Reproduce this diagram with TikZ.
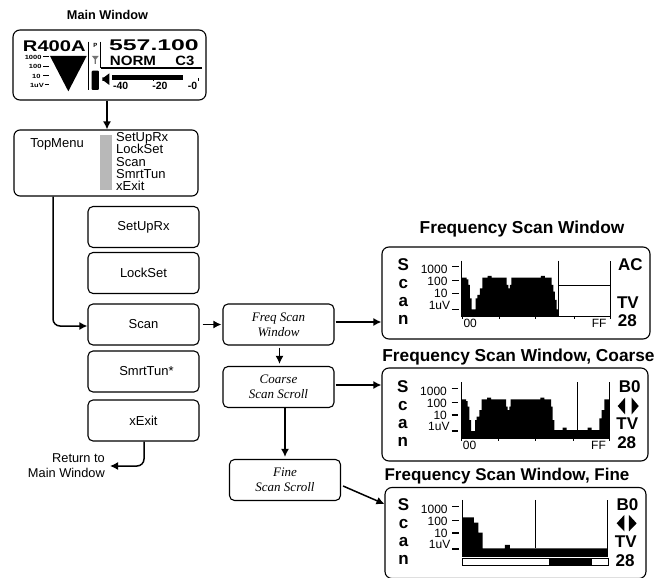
\documentclass[tikz,border=0pt]{standalone}
\usepackage{fontspec}
\usepackage{graphicx}
\setmainfont{Liberation Sans}
\newfontfamily\serifit{Liberation Serif}
\usetikzlibrary{arrows.meta}
\definecolor{barGray}{gray}{0.72}
\tikzset{
  x=1pt,y=-1pt,
  rbox/.style={draw=black,line width=1.1pt,rounded corners=5pt,fill=white,inner sep=0pt,align=center},
  menu/.style={rbox,minimum width=111pt,minimum height=41pt,font=\fontsize{13}{15}\selectfont},
  act/.style={rbox,minimum width=111pt,minimum height=41pt,font=\fontsize{13}{15}\selectfont\serifit\itshape},
  win/.style={rbox,line width=1.1pt,rounded corners=7pt},
  flow/.style={line width=1.5pt,-{Latex[length=8pt,width=8pt]}},
  title/.style={inner sep=0pt,font=\fontsize{17.3}{19}\selectfont\bfseries},
  big/.style={inner sep=0pt,font=\fontsize{17}{19}\selectfont\bfseries},
  lab/.style={inner sep=0pt,anchor=east,font=\fontsize{12}{13}\selectfont},
  lcd/.style={inner sep=0pt,font=\fontsize{15.5}{17}\selectfont\bfseries},
  small/.style={inner sep=0pt,font=\fontsize{6}{7}\selectfont\bfseries},
  mid/.style={inner sep=0pt,font=\fontsize{10.5}{12}\selectfont\bfseries},
  axisl/.style={line width=.8pt},
  tick/.style={line width=1.1pt},
}
% common contents of a scan window, in coordinates of the reference zoom (1/3 px)
\newcommand{\wincommon}[2]{%
  \node[big] (#1s) at (85,165) {S};
  \node[big] (#1c) at (85,222) {c};
  \node[big] (#1a) at (85,277) {a};
  \node[big] (#1n) at (85,330) {n};
  \node[lab] (#1l1) at (218,178) {1000};
  \node[lab] (#1l2) at (218,214) {100};
  \node[lab] (#1l3) at (218,250) {10};
  \node[lab] (#1l4) at (226,285) {1uV};
  \foreach \yy in {170,212,250,298} \draw[tick] (232,\yy) -- (252,\yy);
  \node[big,anchor=east] (#1t) at (#2,277) {TV};
  \node[big,anchor=east] (#1e) at (#2-6,333) {28};
}
\newcommand{\ticks}{%
  \foreach \xx in {262,373,482,598,705} \draw[axisl] (\xx,320) -- (\xx,328);
  \node[inner sep=0pt,font=\fontsize{12}{13}\selectfont,anchor=west] at (265,340) {00};
  \node[inner sep=0pt,font=\fontsize{12}{13}\selectfont,anchor=east] at (695,340) {FF};
}
\newcommand{\humps}{(260,320) -- (260,203) -- (275,203) -- (275,208) -- (280,208) -- (280,225) -- (285,225) -- (285,265) -- (290,265) -- (290,298) -- (302,298) -- (302,265) -- (307,265) -- (307,255) -- (315,255) -- (315,235) -- (322,235) -- (322,203) -- (338,203) -- (338,198) -- (350,198) -- (350,203) -- (395,203) -- (395,225) -- (400,225) -- (400,235) -- (405,235) -- (405,225) -- (409,225) -- (409,203) -- (498,203) -- (498,198) -- (510,198) -- (510,203) -- (530,203) -- (530,225)}
\begin{document}
\begin{tikzpicture}
\useasboundingbox (0,0) rectangle (665,578);
% Main window
\node[inner sep=0pt,font=\fontsize{12.7}{14}\selectfont\bfseries] (mt) at (107.5,15) {Main Window};
\node[win,minimum width=193pt,minimum height=70pt] (main) at (109.5,65) {};
\begin{scope}[x=.3333pt,y=-.3333pt]
  \node[lcd] (r4) at (163,139) {\scalebox{1.3}[1]{R400A}};
  \node[lcd] (fq) at (462,137) {\scalebox{1.6}[1]{557.100}};
  \node[lcd,font=\fontsize{13.5}{15}\selectfont\bfseries] (nm) at (399,183) {\scalebox{1.12}[1]{NORM}};
  \node[lcd,font=\fontsize{13.5}{15}\selectfont\bfseries] (c3) at (555,183) {\scalebox{1.1}[1]{C3}};
  \node[small,anchor=east] (m1) at (125,172) {\scalebox{1.25}[1]{1000}};
  \node[small,anchor=east] (m2) at (125,200) {\scalebox{1.25}[1]{100}};
  \node[small,anchor=east] (m3) at (122,228) {\scalebox{1.25}[1]{10}};
  \node[small,anchor=east] (m4) at (132,256) {\scalebox{1.25}[1]{1uV}};
  \foreach \yy/\xa in {170/130,198/130,226/130,254/134} \draw[line width=.7pt] (\xa,\yy) -- (146,\yy);
  \fill (150,168) -- (260,168) -- (205,274) -- cycle;
  \draw[line width=1pt] (265,125) -- (265,270);
  \draw[line width=1pt] (303,125) -- (303,205);
  \draw[line width=1.2pt] (303,204) -- (605,204);
  \node[small] (pp) at (286,135) {P};
  \fill[black!55] (276,168) -- (296,168) -- (288,178) -- (288,192) -- (284,192) -- (284,178) -- cycle;
  \fill[rounded corners=1pt] (275,212) rectangle (297,270);
  \fill (307,232) -- (312,232) -- (328,220) -- (328,255) -- (312,243) -- (307,243) -- cycle;
  \fill (337,226) rectangle (550,240);
  \node[mid] (d1) at (362,257) {-40};
  \node[mid] (d2) at (480,257) {-20};
  \node[mid] (d3) at (578,257) {-0};
  \foreach \xx in {460,596} \draw[line width=.6pt] (\xx,234) -- (\xx,244);
\end{scope}
% Top menu
\node[win,rounded corners=6pt,minimum width=184pt,minimum height=66pt] (top) at (106,163) {};
\node[inner sep=0pt,font=\fontsize{13}{15}\selectfont] (tm) at (57,144) {TopMenu};
\fill[barGray] (100,135) rectangle (112,190);
\node[inner sep=0pt,anchor=north west,align=left,font=\fontsize{13}{12.2}\selectfont] (tl) at (116,132.5) {SetUpRx\\LockSet\\Scan\\SmrtTun\\xExit};
% Menu boxes
\node[menu] (setup) at (143.5,227) {SetUpRx};
\node[menu] (lock) at (143.5,273) {LockSet};
\node[menu] (scan) at (143.5,324.5) {Scan};
\node[menu] (smrt) at (143.5,371.5) {\hspace*{6pt}SmrtTun*};
\node[menu] (xexit) at (143.5,420.5) {xExit};
\node[inner sep=0pt,align=right,anchor=east,font=\fontsize{12.8}{15}\selectfont] (ret) at (105,465.5) {Return to\\Main Window};
% Action boxes
\node[act] (freq) at (278.5,324.5) {Freq Scan\\Window};
\node[act] (coarse) at (278.5,387) {Coarse\\Scan Scroll};
\node[act] (fine) at (285,480) {Fine\\Scan Scroll};
% Titles
\node[title] (t1) at (522,229) {Frequency Scan Window};
\node[title] (t2) at (518.5,357) {Frequency Scan Window, Coarse};
\node[title,font=\fontsize{17}{19}\selectfont\bfseries] (t3) at (507,476) {Frequency Scan Window, Fine};
% Windows
\node[win,minimum width=268pt,minimum height=92pt] (w1) at (516,293) {};
\node[win,minimum width=266pt,minimum height=93pt] (w2) at (515,414.5) {};
\node[win,minimum width=261pt,minimum height=91pt] (w3) at (515.5,533) {};
% Window 1 contents
\begin{scope}[shift={(375,210)},x=.3333pt,y=-.3333pt]
  \fill \humps -- (535,225) -- (535,245) -- (540,245) -- (540,270) -- (545,270) -- (545,298) -- (551,298) -- (551,320) -- cycle;
  \draw[axisl] (260,152) -- (260,320) -- (705,320) -- (705,152);
  \draw[axisl] (551,152) -- (551,320);
  \draw[axisl] (551,225) -- (705,225);
  \ticks
  \wincommon{a}{792}
  \node[big,anchor=east] (aac) at (804,165) {AC};
\end{scope}
% Window 2 contents
\begin{scope}[shift={(374.4,331.7)},x=.3333pt,y=-.3333pt]
  \fill \humps -- (535,225) -- (535,265) -- (540,265) -- (540,295) -- (565,295) -- (565,288) -- (577,288) -- (577,295) -- (640,295) -- (640,288) -- (652,288) -- (652,295) -- (675,295) -- (675,260) -- (682,260) -- (682,235) -- (690,235) -- (690,203) -- (705,203) -- (705,320) -- cycle;
  \draw[axisl] (260,152) -- (260,320) -- (705,320) -- (705,152);
  \draw[axisl] (610,152) -- (610,320);
  \ticks
  \wincommon{b}{792}
  \node[big,anchor=east] (bb0) at (799,165) {B0};
  \fill (752,198) -- (730,223) -- (752,248) -- cycle;
  \fill (772,198) -- (793,223) -- (772,248) -- cycle;
\end{scope}
% Window 3 contents
\begin{scope}[shift={(375,460)},x=.3333pt,y=-.3333pt]
  \begin{scope}[shift={(.5,-31)}]
    \wincommon{c}{785}
    \node[big,anchor=east] (cb0) at (790,165) {B0};
  \end{scope}
  \fill (262,288) -- (262,172) -- (297,172) -- (297,188) -- (310,188) -- (310,218) -- (323,218) -- (323,265) -- (390,265) -- (390,255) -- (405,255) -- (405,265) -- (698,265) -- (698,288) -- cycle;
  \draw[axisl] (262,120) -- (262,288) -- (698,288) -- (698,120);
  \draw[axisl] (480,120) -- (480,265);
  \draw[line width=.7pt] (262,296) rectangle (700,315);
  \fill (522,296) rectangle (650,315);
  \fill (748,165) -- (725,190) -- (748,214) -- cycle;
  \fill (762,165) -- (785,190) -- (762,214) -- cycle;
\end{scope}
% Connectors
\draw[flow] (main.south -| 107,0) -- (top.north -| 107,0);
\draw[flow,rounded corners=7pt] (top.south -| 53,0) -- (53,326) -- (scan.west |- 0,326);
\draw[flow] ([xshift=3pt]scan.east) -- ([xshift=-1pt]freq.west);
\draw[flow] ([xshift=1pt,yshift=2.5pt]freq.east) -- (w1.west |- 0,322);
\draw[flow] ([xshift=1pt,yshift=2pt]coarse.east) -- (w2.west |- 0,385);
\draw[flow] ([yshift=-2pt]freq.south -| 279.5,0) -- ([yshift=2pt]coarse.north -| 279.5,0);
\draw[flow] (coarse.south -| 285,0) -- ([yshift=2pt]fine.north);
\draw[flow] ([xshift=2pt,yshift=-6pt]fine.east) -- (w3.west |- 0,504);
\draw[flow,rounded corners=7pt] (xexit.south -| 144,0) -- (144,466) -- ([xshift=5pt]ret.east |- 0,466);
\end{tikzpicture}
\end{document}
